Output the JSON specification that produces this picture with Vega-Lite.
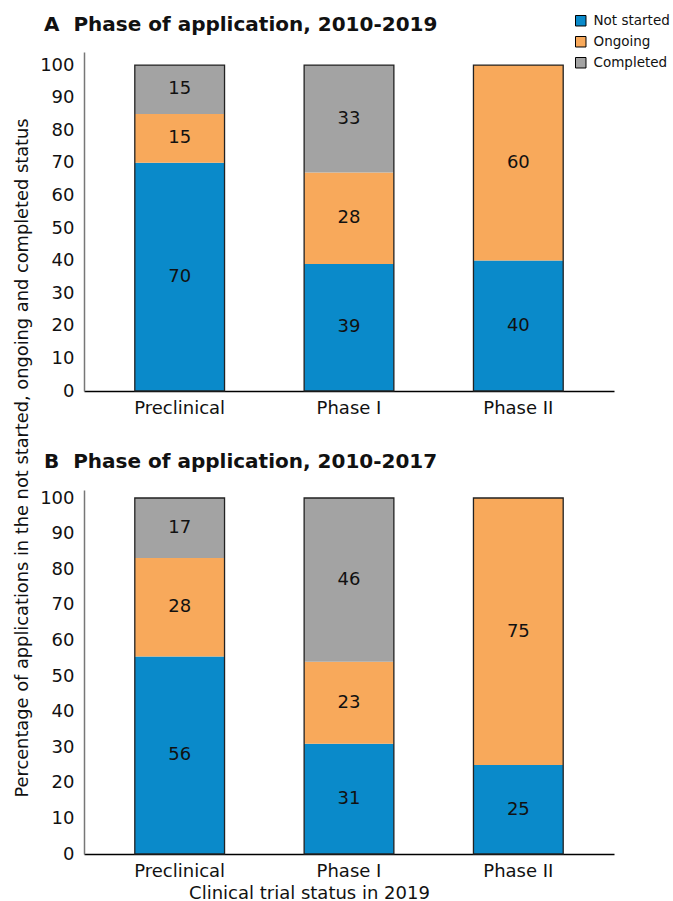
{
  "$schema": "https://vega.github.io/schema/vega-lite/v6.json",
  "background": "white",
  "padding": {"left": 13, "top": 14, "right": 0, "bottom": 5},
  "spacing": 35,
  "title": {"text": "Percentage of applications in the not started, ongoing and completed status", "orient": "left", "anchor": "middle", "fontSize": 17.8, "fontWeight": "normal", "font": "DejaVu Sans", "color": "#111", "offset": 8},
  "config": {
    "font": "DejaVu Sans",
    "view": {"stroke": null},
    "axis": {"ticks": false, "grid": false, "labelOverlap": false, "labelFont": "DejaVu Sans", "titleFont": "DejaVu Sans", "labelColor": "#111", "titleColor": "#111", "titleFontWeight": "normal"}
  },
  "datasets": {
    "A": [
      {"phase": "Preclinical", "status": "Not started", "s": 1, "pct": 70},
      {"phase": "Preclinical", "status": "Ongoing", "s": 2, "pct": 15},
      {"phase": "Preclinical", "status": "Completed", "s": 3, "pct": 15},
      {"phase": "Phase I", "status": "Not started", "s": 1, "pct": 39},
      {"phase": "Phase I", "status": "Ongoing", "s": 2, "pct": 28},
      {"phase": "Phase I", "status": "Completed", "s": 3, "pct": 33},
      {"phase": "Phase II", "status": "Not started", "s": 1, "pct": 40},
      {"phase": "Phase II", "status": "Ongoing", "s": 2, "pct": 60},
      {"phase": "Phase II", "status": "Completed", "s": 3, "pct": 0}
    ],
    "B": [
      {"phase": "Preclinical", "status": "Not started", "s": 1, "pct": 56},
      {"phase": "Preclinical", "status": "Ongoing", "s": 2, "pct": 28},
      {"phase": "Preclinical", "status": "Completed", "s": 3, "pct": 17},
      {"phase": "Phase I", "status": "Not started", "s": 1, "pct": 31},
      {"phase": "Phase I", "status": "Ongoing", "s": 2, "pct": 23},
      {"phase": "Phase I", "status": "Completed", "s": 3, "pct": 46},
      {"phase": "Phase II", "status": "Not started", "s": 1, "pct": 25},
      {"phase": "Phase II", "status": "Ongoing", "s": 2, "pct": 75},
      {"phase": "Phase II", "status": "Completed", "s": 3, "pct": 0}
    ]
  },
  "vconcat": [
    {
      "width": 530,
      "height": 339,
      "title": {"text": "A\u00a0\u00a0Phase of application, 2010-2019", "anchor": "start", "frame": "group", "dx": -40, "fontSize": 20, "fontWeight": "bold", "font": "DejaVu Sans", "color": "#111", "offset": 17},
      "data": {"name": "A"},
      "transform": [
        {"stack": "pct", "groupby": ["phase"], "sort": [{"field": "s", "order": "ascending"}], "offset": "normalize", "as": ["y0", "y1"]}
      ],
      "layer": [
        {
          "mark": {"type": "bar"},
          "encoding": {
            "x": {"field": "phase", "type": "nominal", "sort": ["Preclinical", "Phase I", "Phase II"], "scale": {"paddingInner": 0.47, "paddingOuter": 0.3}, "axis": {"title": null, "labelAngle": 0, "labelFontSize": 18, "labelPadding": 8, "domainColor": "#000", "domainWidth": 1.5}},
            "y": {"field": "y0", "type": "quantitative", "scale": {"domain": [0, 1.04], "nice": false}, "axis": {"title": null, "values": [0, 0.1, 0.2, 0.3, 0.4, 0.5, 0.6, 0.7, 0.8, 0.9, 1.0], "labelOverlap": false, "labelExpr": "round(datum.value*100)", "labelFontSize": 18, "labelPadding": 10, "domainColor": "#777", "domainWidth": 1.5}},
            "y2": {"field": "y1"},
            "color": {"field": "status", "type": "nominal", "scale": {"domain": ["Not started", "Ongoing", "Completed"], "range": ["#0A8ACA", "#F8A95B", "#A3A3A3"]},
              "legend": {"title": null, "orient": "none", "legendX": 490, "legendY": -38, "symbolType": "square", "symbolSize": 110, "symbolStrokeColor": "#000", "symbolStrokeWidth": 1, "labelFontSize": 13.5, "labelFont": "DejaVu Sans", "labelColor": "#111", "rowPadding": 6, "labelOffset": 6, "labelLimit": 200}}
          }
        },
        {
          "mark": {"type": "bar", "filled": false, "stroke": "#222", "strokeWidth": 1.3},
          "encoding": {
            "x": {"field": "phase", "type": "nominal", "sort": ["Preclinical", "Phase I", "Phase II"]},
            "y": {"aggregate": "max", "field": "y1", "type": "quantitative", "axis": {"title": null, "values": [0, 0.1, 0.2, 0.3, 0.4, 0.5, 0.6, 0.7, 0.8, 0.9, 1.0], "labelOverlap": false, "labelExpr": "round(datum.value*100)", "labelFontSize": 18, "labelPadding": 10, "domainColor": "#777", "domainWidth": 1.5}}
          }
        },
        {
          "transform": [
            {"filter": "datum.pct > 0"},
            {"fold": ["y0", "y1"], "as": ["edge", "ypos"]}
          ],
          "mark": {"type": "text", "fontSize": 18, "color": "#111", "baseline": "middle"},
          "encoding": {
            "x": {"field": "phase", "type": "nominal", "sort": ["Preclinical", "Phase I", "Phase II"]},
            "y": {"aggregate": "mean", "field": "ypos", "type": "quantitative", "axis": {"title": null, "values": [0, 0.1, 0.2, 0.3, 0.4, 0.5, 0.6, 0.7, 0.8, 0.9, 1.0], "labelOverlap": false, "labelExpr": "round(datum.value*100)", "labelFontSize": 18, "labelPadding": 10, "domainColor": "#777", "domainWidth": 1.5}},
            "detail": {"field": "status", "type": "nominal"},
            "text": {"field": "pct", "type": "quantitative"}
          }
        }
      ]
    },
    {
      "width": 530,
      "height": 364,
      "title": {"text": "B\u00a0\u00a0Phase of application, 2010-2017", "anchor": "start", "frame": "group", "dx": -40, "fontSize": 20, "fontWeight": "bold", "font": "DejaVu Sans", "color": "#111", "offset": 17},
      "data": {"name": "B"},
      "transform": [
        {"stack": "pct", "groupby": ["phase"], "sort": [{"field": "s", "order": "ascending"}], "offset": "normalize", "as": ["y0", "y1"]}
      ],
      "layer": [
        {
          "mark": {"type": "bar"},
          "encoding": {
            "x": {"field": "phase", "type": "nominal", "sort": ["Preclinical", "Phase I", "Phase II"], "scale": {"paddingInner": 0.47, "paddingOuter": 0.3}, "axis": {"title": "Clinical trial status in 2019", "titleFontSize": 18, "titlePadding": 4, "titleX": 225, "labelAngle": 0, "labelFontSize": 18, "labelPadding": 8, "domainColor": "#000", "domainWidth": 1.5}},
            "y": {"field": "y0", "type": "quantitative", "scale": {"domain": [0, 1.0225], "nice": false}, "axis": {"title": null, "values": [0, 0.1, 0.2, 0.3, 0.4, 0.5, 0.6, 0.7, 0.8, 0.9, 1.0], "labelOverlap": false, "labelExpr": "round(datum.value*100)", "labelFontSize": 18, "labelPadding": 10, "domainColor": "#777", "domainWidth": 1.5}},
            "y2": {"field": "y1"},
            "color": {"field": "status", "type": "nominal", "scale": {"domain": ["Not started", "Ongoing", "Completed"], "range": ["#0A8ACA", "#F8A95B", "#A3A3A3"]}, "legend": null}
          }
        },
        {
          "mark": {"type": "bar", "filled": false, "stroke": "#222", "strokeWidth": 1.3},
          "encoding": {
            "x": {"field": "phase", "type": "nominal", "sort": ["Preclinical", "Phase I", "Phase II"]},
            "y": {"aggregate": "max", "field": "y1", "type": "quantitative", "axis": {"title": null, "values": [0, 0.1, 0.2, 0.3, 0.4, 0.5, 0.6, 0.7, 0.8, 0.9, 1.0], "labelOverlap": false, "labelExpr": "round(datum.value*100)", "labelFontSize": 18, "labelPadding": 10, "domainColor": "#777", "domainWidth": 1.5}}
          }
        },
        {
          "transform": [
            {"filter": "datum.pct > 0"},
            {"fold": ["y0", "y1"], "as": ["edge", "ypos"]}
          ],
          "mark": {"type": "text", "fontSize": 18, "color": "#111", "baseline": "middle"},
          "encoding": {
            "x": {"field": "phase", "type": "nominal", "sort": ["Preclinical", "Phase I", "Phase II"]},
            "y": {"aggregate": "mean", "field": "ypos", "type": "quantitative", "axis": {"title": null, "values": [0, 0.1, 0.2, 0.3, 0.4, 0.5, 0.6, 0.7, 0.8, 0.9, 1.0], "labelOverlap": false, "labelExpr": "round(datum.value*100)", "labelFontSize": 18, "labelPadding": 10, "domainColor": "#777", "domainWidth": 1.5}},
            "detail": {"field": "status", "type": "nominal"},
            "text": {"field": "pct", "type": "quantitative"}
          }
        }
      ]
    }
  ]
}
